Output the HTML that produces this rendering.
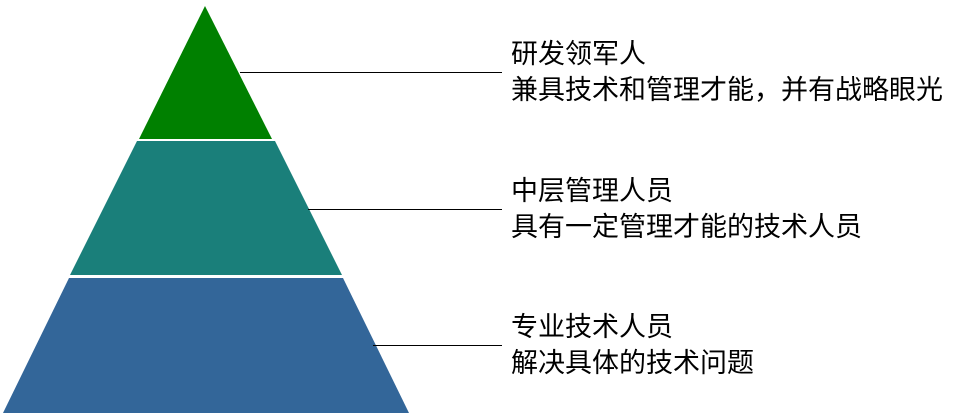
<!DOCTYPE html>
<html><head><meta charset="utf-8"><style>
html,body{margin:0;padding:0;background:#fff;}
body{width:954px;height:419px;position:relative;overflow:hidden;}
.t{position:absolute;left:511px;font-family:"Liberation Sans","Noto Sans CJK SC",sans-serif;font-size:27px;line-height:36px;color:#000;white-space:nowrap;}
</style></head><body>
<svg width="954" height="419" style="position:absolute;left:0;top:0">
<polygon points="205,6 272,139 139,139" fill="#008000"/>
<polygon points="137,141 275,141 342,275 70,275" fill="#1a7f7a"/>
<polygon points="69,278 343,278 409,413 3,413" fill="#336699"/>
<line x1="240" y1="72.5" x2="502" y2="72.5" stroke="#000" stroke-width="1"/>
<line x1="308" y1="209.5" x2="502" y2="209.5" stroke="#000" stroke-width="1"/>
<line x1="373" y1="345.5" x2="502" y2="345.5" stroke="#000" stroke-width="1"/>
</svg>
<div class="t" style="top:36px">研发领军人<br>兼具技术和管理才能，并有战略眼光</div>
<div class="t" style="top:173px">中层管理人员<br>具有一定管理才能的技术人员</div>
<div class="t" style="top:309px">专业技术人员<br>解决具体的技术问题</div>
</body></html>
